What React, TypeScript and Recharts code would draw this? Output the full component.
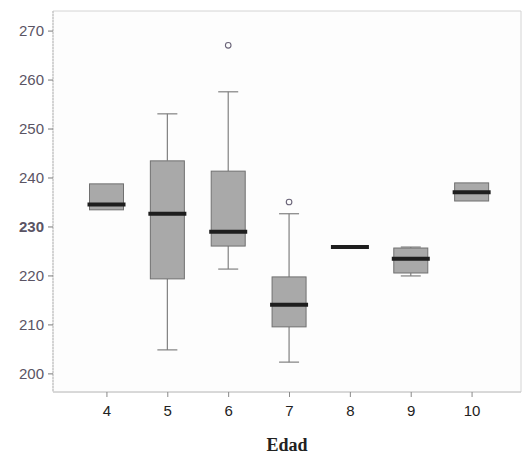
import React from 'react';
import { ComposedChart, Bar, XAxis, YAxis, CartesianGrid } from 'recharts';

const ages = ['4', '5', '6', '7', '8', '9', '10'];
const whiskerLow = [233.5, 204.9, 221.4, 202.4, 225.9, 220.0, 235.3];
const q1 = [233.5, 219.4, 226.1, 209.6, 225.9, 220.6, 235.3];
const median = [234.6, 232.7, 229.0, 214.1, 225.9, 223.5, 237.1];
const q3 = [238.8, 243.5, 241.4, 219.8, 225.9, 225.7, 239.0];
const whiskerHigh = [238.8, 253.1, 257.6, 232.7, 225.9, 225.9, 239.0];
const outliers: number[][] = [[], [], [267.1], [235.1], [], [], []];
const yTicks = [200, 210, 220, 230, 240, 250, 260, 270];

const Y_MIN = 196.3;
const Y_MAX = 274.1;

const data = ages.map((edad, i) => ({
  edad,
  lo: whiskerLow[i],
  q1: q1[i],
  med: median[i],
  q3: q3[i],
  hi: whiskerHigh[i],
  out: outliers[i],
}));

const BoxShape = (props: any) => {
  const { x, y, width, height, payload } = props;
  const py = (v: number) => y + (height * (Y_MAX - v)) / (Y_MAX - Y_MIN);
  const cx = x + width / 2;
  const capW = 10;
  const yLo = py(payload.lo);
  const yHi = py(payload.hi);
  const yQ1 = py(payload.q1);
  const yQ3 = py(payload.q3);
  const yMed = py(payload.med);
  const boxH = yQ1 - yQ3;
  return (
    <g>
      {yHi < yQ3 - 0.5 && (
        <g stroke="#808080" strokeWidth={1.2}>
          <line x1={cx} x2={cx} y1={yHi} y2={yQ3} />
          <line x1={cx - capW} x2={cx + capW} y1={yHi} y2={yHi} />
        </g>
      )}
      {yLo > yQ1 + 0.5 && (
        <g stroke="#808080" strokeWidth={1.2}>
          <line x1={cx} x2={cx} y1={yQ1} y2={yLo} />
          <line x1={cx - capW} x2={cx + capW} y1={yLo} y2={yLo} />
        </g>
      )}
      {boxH > 0.5 && (
        <rect x={x} y={yQ3} width={width} height={boxH} fill="#a9a9a9" stroke="#707070" strokeWidth={1} />
      )}
      <line x1={x - 2} x2={x + width + 2} y1={yMed} y2={yMed} stroke="#1e1e1e" strokeWidth={4} />
      {payload.out.map((v: number, k: number) => (
        <circle key={k} cx={cx} cy={py(v)} r={2.8} fill="none" stroke="#6a6478" strokeWidth={1.1} />
      ))}
    </g>
  );
};

const YTick = (props: any) => {
  const { x, y, payload } = props;
  return (
    <text
      x={x}
      y={y}
      dy="0.355em"
      textAnchor="end"
      fill="#5a5464"
      fontSize={15}
      fontWeight={payload.value === 230 ? 'bold' : 'normal'}
      fontFamily="'Liberation Sans', Arial, sans-serif"
    >
      {payload.value}
    </text>
  );
};

export default function App() {
  return (
    <div style={{ position: 'absolute', left: 0, top: 0, width: 525, height: 455, background: '#ffffff' }}>
      <ComposedChart
        width={525}
        height={455}
        data={data}
        margin={{ top: 11, right: 4, left: 0, bottom: 0 }}
      >
        <CartesianGrid
          stroke="#d4d4d4"
          fill="#fdfdfd"
          horizontalCoordinatesGenerator={({ offset }: any) => [offset.top, offset.top + offset.height]}
          verticalCoordinatesGenerator={({ offset }: any) => [offset.left, offset.left + offset.width]}
        />
        <XAxis
          dataKey="edad"
          type="category"
          height={63}
          padding={{ left: 23.5, right: 18.5 }}
          axisLine={{ stroke: '#c8c8c8' }}
          tickLine={{ stroke: '#8a8a8a' }}
          tickSize={5}
          tickMargin={8}
          tick={{ fill: '#222222', fontSize: 15, fontFamily: "'Liberation Sans', Arial, sans-serif" }}
          label={{
            value: 'Edad',
            position: 'insideBottom',
            offset: 4,
            style: {
              fill: '#222222',
              fontSize: 18,
              fontWeight: 'bold',
              fontFamily: "'Liberation Serif', 'Times New Roman', serif",
            },
          }}
        />
        <YAxis
          type="number"
          domain={[Y_MIN, Y_MAX]}
          ticks={yTicks}
          allowDataOverflow
          width={53}
          axisLine={{ stroke: '#bdbdbd', strokeDasharray: '2 1' }}
          tickLine={{ stroke: '#7a7a7a' }}
          tickSize={5}
          tickMargin={4}
          tick={<YTick />}
        />
        <Bar
          dataKey={(d: any) => [Y_MIN, Y_MAX]}
          barSize={34}
          shape={<BoxShape />}
          isAnimationActive={false}
        />
      </ComposedChart>
    </div>
  );
}
